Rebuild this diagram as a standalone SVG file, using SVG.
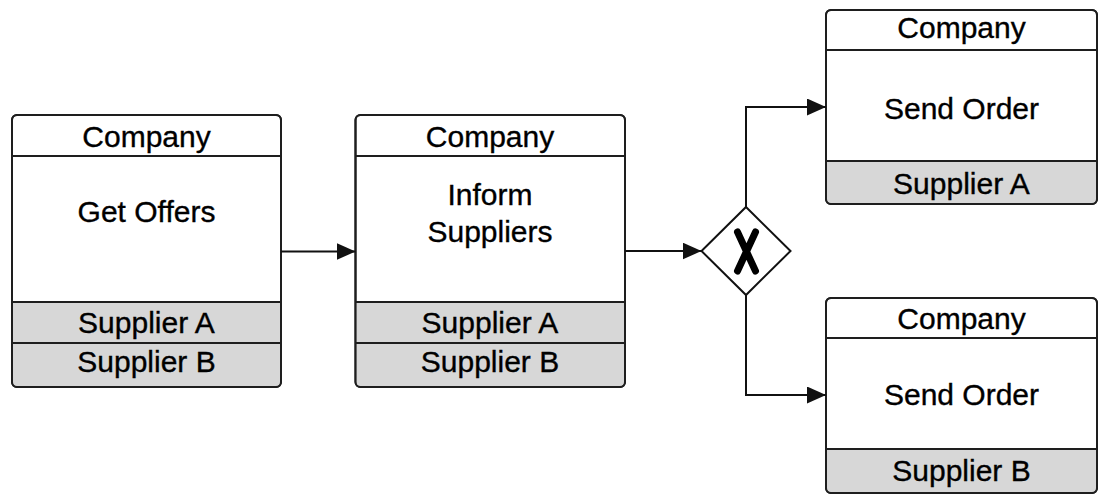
<svg xmlns="http://www.w3.org/2000/svg" width="1101" height="495" viewBox="0 0 1101 495">
<style>
.box{fill:#fff;stroke:#1e1e1e;stroke-width:2}
.gray{fill:#d7d7d7;stroke:none}
.div{stroke:#1e1e1e;stroke-width:2;fill:none}
.lbl{font-family:"Liberation Sans",Arial,Helvetica,sans-serif;font-size:30px;fill:#000;stroke:#000;stroke-width:0.35;text-anchor:middle}
.conn{stroke:#111;stroke-width:2;fill:none}
</style>
<defs>
<marker id="arrow" markerUnits="userSpaceOnUse" markerWidth="20" markerHeight="18" refX="19" refY="8.5" orient="auto">
<path d="M0,0 L19,8.5 L0,17 Z" fill="#111"/>
</marker>
</defs>
<rect width="1101" height="495" fill="#fff"/>

<g id="node-get-offers">
<rect class="box" x="12" y="115" width="269" height="272" rx="5"/>
<path class="gray" d="M13,302 H280 V382 Q280,386 276,386 H17 Q13,386 13,382 Z"/>
<line class="div" x1="12" y1="156" x2="281" y2="156"/>
<line class="div" x1="12" y1="302" x2="281" y2="302"/>
<line class="div" x1="12" y1="343" x2="281" y2="343"/>
<rect x="12" y="115" width="269" height="272" rx="5" fill="none" stroke="#1e1e1e" stroke-width="2"/>
<text class="lbl" x="146.5" y="146.5">Company</text>
<text class="lbl" x="146.5" y="222">Get Offers</text>
<text class="lbl" x="146.5" y="332.5">Supplier A</text>
<text class="lbl" x="146.5" y="372">Supplier B</text>
</g>

<g id="node-inform-suppliers">
<rect class="box" x="355.5" y="115" width="269.5" height="272" rx="5"/>
<path class="gray" d="M356.5,302 H624 V382 Q624,386 620,386 H360.5 Q356.5,386 356.5,382 Z"/>
<line class="div" x1="355.5" y1="156" x2="625" y2="156"/>
<line class="div" x1="355.5" y1="302" x2="625" y2="302"/>
<line class="div" x1="355.5" y1="343" x2="625" y2="343"/>
<rect x="355.5" y="115" width="269.5" height="272" rx="5" fill="none" stroke="#1e1e1e" stroke-width="2"/>
<text class="lbl" x="490" y="146.5">Company</text>
<text class="lbl" x="490" y="205">Inform</text>
<text class="lbl" x="490" y="241.5">Suppliers</text>
<text class="lbl" x="490" y="332.5">Supplier A</text>
<text class="lbl" x="490" y="372">Supplier B</text>
</g>

<g id="node-gateway">
<polygon points="746,207 790.5,251 746,295 701.5,251" fill="#fff" stroke="#111" stroke-width="2"/>
<path d="M737.5,232 L755.5,271 M755.5,232 L737.5,271" fill="none" stroke="#000" stroke-width="7" stroke-linecap="round"/>
</g>

<g id="node-send-order-a">
<rect class="box" x="826" y="10" width="271" height="194" rx="5"/>
<path class="gray" d="M827,161 H1096 V199 Q1096,203 1092,203 H831 Q827,203 827,199 Z"/>
<line class="div" x1="826" y1="50" x2="1097" y2="50"/>
<line class="div" x1="826" y1="161" x2="1097" y2="161"/>
<rect x="826" y="10" width="271" height="194" rx="5" fill="none" stroke="#1e1e1e" stroke-width="2"/>
<text class="lbl" x="961.5" y="37.5">Company</text>
<text class="lbl" x="961.5" y="118.5">Send Order</text>
<text class="lbl" x="961.5" y="193.5">Supplier A</text>
</g>

<g id="node-send-order-b">
<rect class="box" x="826" y="298" width="271" height="195" rx="5"/>
<path class="gray" d="M827,449 H1096 V488 Q1096,492 1092,492 H831 Q827,492 827,488 Z"/>
<line class="div" x1="826" y1="338" x2="1097" y2="338"/>
<line class="div" x1="826" y1="449" x2="1097" y2="449"/>
<rect x="826" y="298" width="271" height="195" rx="5" fill="none" stroke="#1e1e1e" stroke-width="2"/>
<text class="lbl" x="961.5" y="328.5">Company</text>
<text class="lbl" x="961.5" y="405">Send Order</text>
<text class="lbl" x="961.5" y="480.5">Supplier B</text>
</g>

<g id="connectors">
<path class="conn" d="M281,251.5 H355.5" marker-end="url(#arrow)"/>
<path class="conn" d="M625,251 H701.5" marker-end="url(#arrow)"/>
<path class="conn" d="M746,207 V107 H826" marker-end="url(#arrow)"/>
<path class="conn" d="M746,295 V395 H826" marker-end="url(#arrow)"/>
</g>
</svg>
